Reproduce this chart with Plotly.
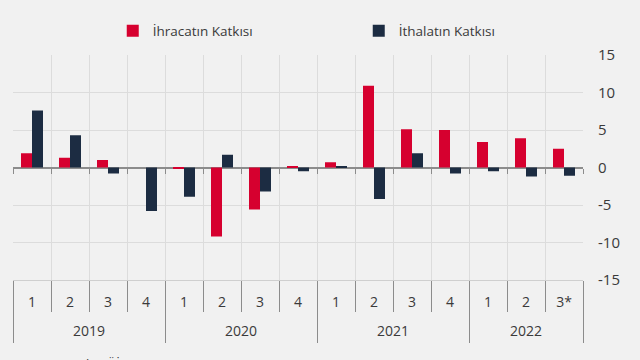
import plotly.graph_objects as go

years = ["2019"] * 4 + ["2020"] * 4 + ["2021"] * 4 + ["2022"] * 3
quarters = ["1", "2", "3", "4", "1", "2", "3", "4", "1", "2", "3", "4", "1", "2", "3*"]
ihracat = [1.9, 1.3, 1.0, 0.0, -0.1, -9.2, -5.6, 0.2, 0.7, 10.9, 5.1, 5.0, 3.4, 3.9, 2.5]
ithalat = [7.6, 4.3, -0.8, -5.8, -3.9, 1.7, -3.2, -0.5, 0.1, -4.2, 1.9, -0.8, -0.5, -1.2, -1.1]
ytick_vals = [15, 10, 5, 0, -5, -10, -15]
ytick_text = ["15", "10", "5", "0", "-5", "-10", "-15"]

RED = "#d6002f"
NAVY = "#1c2c42"
BG = "#f1f1f1"
GRID = "#dcdcdc"
AX = "#8c8c8c"
TXT = "#3a3a3a"
FONT = "Open Sans"

# unique category keys, shown with quarter tick labels
keys = [f"{y}-{q}" for y, q in zip(years, quarters)]
n = len(keys)
boundaries = [i - 0.5 for i in range(n + 1)]

# year groups: boundaries and centres derived from the years list
year_names, year_start = [], []
for i, y in enumerate(years):
    if not year_names or year_names[-1] != y:
        year_names.append(y)
        year_start.append(i)
year_end = year_start[1:] + [n]
year_bounds = [s - 0.5 for s in year_start] + [n - 0.5]
year_centres = [(s + e - 1) / 2 for s, e in zip(year_start, year_end)]

fig = go.Figure()
fig.add_trace(go.Bar(x=keys, y=ihracat, name="İhracatın Katkısı",
                     marker=dict(color=RED, line=dict(width=0))))
fig.add_trace(go.Bar(x=keys, y=ithalat, name="İthalatın Katkısı",
                     marker=dict(color=NAVY, line=dict(width=0))))
# empty helper traces so the decoration axes get drawn
for ax in ["x2", "x3", "x4", "x5"]:
    fig.add_trace(go.Scatter(x=[], y=[], xaxis=ax, yaxis="y", showlegend=False,
                             hoverinfo="skip"))

common_overlay = dict(overlaying="x", anchor="free", side="bottom",
                      range=[-0.5, n - 0.5], tickmode="array",
                      showgrid=False, showline=False, zeroline=False, fixedrange=True)

fig.update_layout(
    width=640, height=360,
    margin=dict(l=13, r=57, t=55, b=80, autoexpand=False),
    paper_bgcolor=BG, plot_bgcolor=BG,
    font=dict(family=FONT, size=13, color=TXT),
    barmode="group", bargap=0.42, bargroupgap=0,
    showlegend=True,
    legend=dict(orientation="h", x=0.175, xanchor="left", y=1.107, yanchor="middle",
                entrywidth=201, entrywidthmode="pixels", bgcolor="rgba(0,0,0,0)",
                font=dict(family=FONT, size=13.5, color=TXT), itemclick=False),
    xaxis=dict(
        type="category", categoryorder="array", categoryarray=keys,
        tickmode="array", tickvals=keys, ticktext=quarters,
        tickson="boundaries", ticks="",
        showgrid=True, gridcolor=GRID, gridwidth=1,
        showline=True, linecolor="#cfcfcf", linewidth=1,
        tickfont=dict(family=FONT, size=14, color=TXT),
        ticklabelstandoff=9,
        range=[-0.5, n - 0.5], automargin=False,
        fixedrange=True,
    ),
    # short ticks along the zero line
    xaxis2=dict(common_overlay, position=0.5,
                tickvals=boundaries, ticks="outside", ticklen=5, tickcolor=AX,
                tickwidth=1, showticklabels=False),
    # quarter separators below the plot
    xaxis3=dict(common_overlay, position=0,
                tickvals=boundaries, ticks="outside", ticklen=31, tickcolor=AX,
                tickwidth=1, showticklabels=False),
    # year separators
    xaxis4=dict(common_overlay, position=0,
                tickvals=year_bounds, ticks="outside", ticklen=62, tickcolor=AX,
                tickwidth=1, showticklabels=False),
    # year labels
    xaxis5=dict(common_overlay, position=0,
                tickvals=year_centres, ticktext=year_names, ticks="",
                ticklabelstandoff=41,
                tickfont=dict(family=FONT, size=14, color=TXT)),
    yaxis=dict(
        side="right", range=[-15, 15], tickmode="array",
        tickvals=ytick_vals, ticktext=ytick_text,
        showgrid=True, gridcolor=GRID, gridwidth=1,
        zeroline=True, zerolinecolor=AX, zerolinewidth=1.5,
        ticks="", ticklabelstandoff=14, automargin=False,
        tickfont=dict(family=FONT, size=15, color=TXT),
        fixedrange=True,
    ),
    annotations=[dict(text="Kaynak: TÜİK", xref="paper", yref="paper",
                      x=0.06, xanchor="left", y=-0.325, yanchor="top",
                      showarrow=False, font=dict(family=FONT, size=13, color=TXT))],
)

fig.write_html("out.html", config={"displayModeBar": False},
               post_script="document.body.style.margin='0';document.body.style.overflow='hidden';")
